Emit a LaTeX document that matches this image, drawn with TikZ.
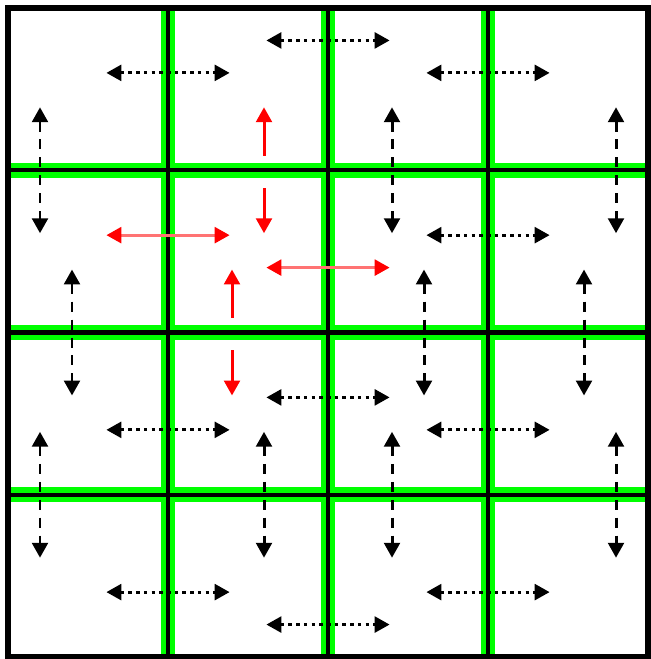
\documentclass[tikz,border=0pt]{standalone}
\usepackage{tikz}
\usetikzlibrary{arrows.meta}

\tikzset{
  gridgreen/.style={line width=8.5pt, color=green},
  gridblack/.style={line width=2.3pt, black},
  tipfill/.style={>={Triangle[length=8.5pt,width=9pt]}},
  hmove/.style={tipfill, <->, line width=1.7pt, dash pattern=on 2pt off 2.4pt},
  vmove/.style={tipfill, <->, line width=1.7pt, dash pattern=on 5.7pt off 4.5pt},
  hred/.style={<->, >={Triangle[length=8.5pt,width=9pt,color=red]}, line width=1.7pt, draw=red!55},
  vred/.style={tipfill, ->, line width=1.7pt, red},
}

\begin{document}
\begin{tikzpicture}[x=3.2cm,y=-3.245cm]
    \useasboundingbox (-0.05,-0.0493) rectangle (4.0125,4.0123);
    % green bands under the cell borders
    \foreach \k in {1,2,3} {
        \draw[gridgreen] (\k,0) -- (\k,4);
        \draw[gridgreen] (0,\k) -- (4,\k);
    }
    \foreach \k in {1,2,3} {
        \draw[gridblack] (\k,0) -- (\k,4);
        \draw[gridblack] (0,\k) -- (4,\k);
    }
    \draw[line width=3.4pt] (0,0) rectangle (4,4);

    % swaps across vertical borders
    \foreach \x/\y in {1/0.4, 2/0.2, 3/0.4, 3/1.4, 1/2.6, 2/2.4, 3/2.6, 1/3.6, 2/3.8, 3/3.6}
        \draw[hmove] (\x-0.385,\y) -- (\x+0.385,\y);
    \foreach \x/\y in {1/1.4, 2/1.6}
        \draw[hred] (\x-0.385,\y) -- (\x+0.385,\y);

    % swaps across horizontal borders
    \foreach \x/\y in {0.2/1, 2.4/1, 3.8/1, 0.4/2, 2.6/2, 3.6/2, 0.2/3, 1.6/3, 2.4/3, 3.8/3}
        \draw[vmove] (\x,\y-0.388) -- (\x,\y+0.388);
    \foreach \x/\y in {1.6/1, 1.4/2} {
        \draw[vred] (\x,\y-0.09) -- (\x,\y-0.388);
        \draw[vred] (\x,\y+0.11) -- (\x,\y+0.388);
    }
\end{tikzpicture}
\end{document}
